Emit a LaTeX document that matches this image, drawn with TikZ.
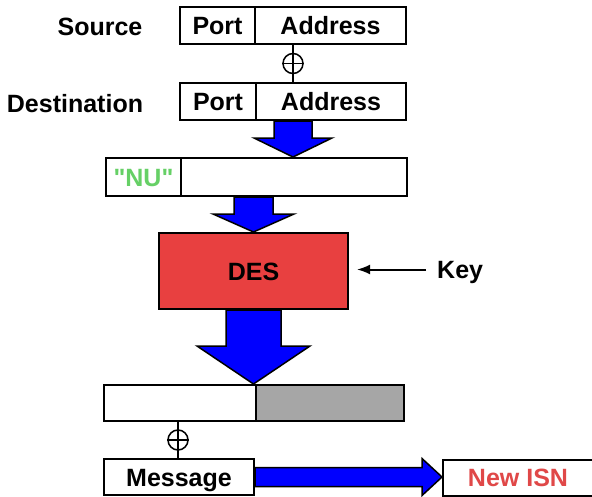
\documentclass[tikz,border=0pt]{standalone}
\usepackage{fontspec}
% plain family: straight double quotes stay straight
\newfontfamily\labelfont{Liberation Sans}
\usetikzlibrary{calc,arrows.meta}

\definecolor{desred}{RGB}{232,64,64}
\definecolor{isnred}{RGB}{224,72,72}
\definecolor{nugreen}{RGB}{102,208,102}
\definecolor{halfgray}{RGB}{166,166,166}
\definecolor{flowblue}{RGB}{0,0,255}

% vertical block arrow: #1 top centre, #2 tip, #3 half shaft, #4 half head, #5 head length
\newcommand\downblock[5]{%
  \draw[blk] let \p1=(#1), \p2=(#2) in
    (\x1-#3,\y1) -- (\x1+#3,\y1) -- (\x1+#3,\y2+#5) -- (\x1+#4,\y2+#5)
    -- (\x1,\y2) -- (\x1-#4,\y2+#5) -- (\x1-#3,\y2+#5) -- cycle;}
% horizontal block arrow: #1 left centre, #2 tip, #3 half shaft, #4 half head, #5 head length
\newcommand\rightblock[5]{%
  \draw[blk] let \p1=(#1), \p2=(#2) in
    (\x1,\y1+#3) -- (\x2-#5,\y1+#3) -- (\x2-#5,\y1+#4) -- (\x2,\y1)
    -- (\x2-#5,\y1-#4) -- (\x2-#5,\y1-#3) -- (\x1,\y1-#3) -- cycle;}

\tikzset{
  every node/.style={font=\labelfont\fontsize{25}{29}\selectfont\bfseries,
    inner sep=0pt, text height=18pt, text depth=0pt},
  field/.style={draw, line width=2pt, rectangle, minimum height=37pt, fill=white},
  lbl/.style={},
  xor/.style={draw, circle, line width=1.5pt, minimum size=20pt, text height=, text depth=},
  wire/.style={line width=1.5pt},
  blk/.style={fill=flowblue, draw=black, line width=1.5pt, line join=miter},
  keyline/.style={line width=2pt, -{Latex[length=13pt,width=10pt]}},
}

\begin{document}
\begin{tikzpicture}[x=1pt,y=-1pt]
\useasboundingbox (0,0) rectangle (592,496);

% source and destination sockets
\node[field, minimum width=75pt] (srcport) at (217.5,25.5) {Port};
\node[field, minimum width=151pt] (srcaddr) at (330.5,25.5) {Address};
\node[field, minimum width=76pt] (dstport) at (218,101.5) {Port};
\node[field, minimum width=150pt] (dstaddr) at (331,101.5) {Address};
\node[lbl] (srclbl) at (100,26.5) {Source};
\node[lbl] (dstlbl) at (75,103) {Destination};

\node[xor] (xorA) at (293,63.5) {};
\draw[wire] (xorA.north) -- (xorA.south) (xorA.west) -- (xorA.east);
\draw[wire] (xorA |- srcaddr.south) -- (xorA.north);
\draw[wire] (xorA.south) -- (xorA |- dstaddr.north);

% padded block
\node[field, minimum width=75pt, minimum height=38pt, text=nugreen] (nuL) at (143.5,177) {"NU"};
\node[field, minimum width=226pt, minimum height=38pt] (nuR) at (294,177) {};

% cipher
\node[field, minimum width=189pt, minimum height=76pt, fill=desred] (des) at (253.5,271) {DES};
\node[lbl, anchor=west] (key) at (437,269.5) {Key};
\draw[keyline] ($(key.west)+(-11,0)$) -- ($(des.east |- key.west)+(8,0)$);

% cipher output
\node[field, minimum width=152pt, minimum height=36pt] (outL) at (180,403) {};
\node[field, minimum width=148pt, minimum height=36pt, fill=halfgray] (outR) at (330,403) {};

\node[xor] (xorB) at (178,440) {};
\draw[wire] (xorB.north) -- (xorB.south) (xorB.west) -- (xorB.east);
\draw[wire] (xorB |- outL.south) -- (xorB.north);

\node[field, minimum width=150pt, minimum height=36pt] (msg) at (179,477) {Message};
\draw[wire] (xorB.south) -- (xorB |- msg.north);
\node[field, minimum width=150pt, minimum height=36pt, text=isnred] (isn) at (518,477.5) {New ISN};

% data flow arrows
\downblock{xorA |- dstaddr.south}{xorA |- nuR.north}{19pt}{39pt}{19pt}
\downblock{des |- nuR.south}{des.north}{19.5pt}{40.5pt}{18pt}
\downblock{des.south}{des |- outL.north}{27.5pt}{56.5pt}{38pt}
\rightblock{msg.east}{isn.west}{9.5pt}{18.5pt}{20pt}

\end{tikzpicture}
\end{document}
